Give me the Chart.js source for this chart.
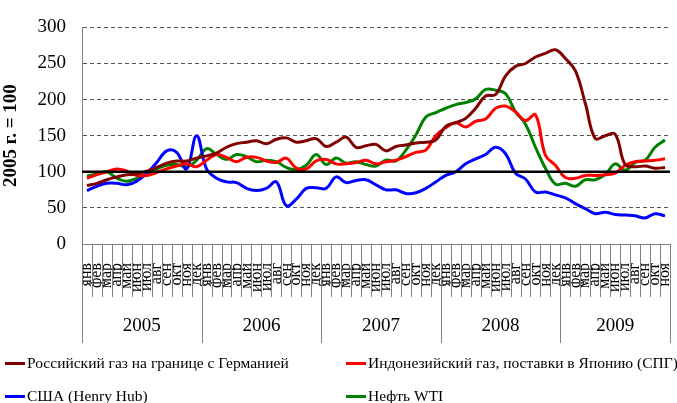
<!DOCTYPE html>
<html lang="ru">
<head>
<meta charset="UTF-8">
<title>Цены на газ и нефть, 2005 г. = 100</title>
<script src="https://cdn.jsdelivr.net/npm/chart.js"></script>
<style>
    body {
        margin: 0;
        background: #fff;
        font-family: "Liberation Serif", "Times New Roman", serif;
    }
    .wrap {
        position: relative;
        width: 677px;
        height: 403px;
    }
    .legend-item {
        position: absolute;
        display: flex;
        align-items: center;
        font-size: 15.5px;
        color: #000;
        white-space: nowrap;
        transform: translateY(-50%);
    }
    .legend-item .swatch {
        width: 20px;
        height: 3px;
        margin-right: 2px;
    }
</style>
</head>
<body>
<div class="wrap">
    <canvas id="chart"></canvas>
    <div id="legend"></div>
</div>
<script>
// данные
const monthNames = ['янв', 'фев', 'мар', 'апр', 'май', 'июн', 'июл', 'авг', 'сен', 'окт', 'ноя', 'дек'];
const years = ['2005', '2006', '2007', '2008', '2009'];
const monthsPerYear = [12, 12, 12, 12, 11];
const yTicks = [0, 50, 100, 150, 200, 250, 300];
const baseLevel = 100;

const russianGas = [
    81, 84, 89, 93, 96, 97, 101, 106, 112, 115, 115, 119,
    122, 126, 134, 139, 141, 143, 139, 145, 147, 141, 143, 146,
    135, 141, 148, 134, 136, 138, 129, 135, 137, 140, 141, 144,
    163, 168, 174, 188, 205, 207, 233, 246, 250, 259, 264, 269,
    257, 240, 195, 146, 150, 152, 110, 107, 108, 105, 106
];
const indonesiaLng = [
    91, 96, 100, 104, 101, 95, 95, 99, 104, 108, 111, 107,
    116, 124, 120, 114, 120, 120, 115, 113, 119, 105, 104, 115,
    117, 111, 111, 113, 116, 111, 114, 116, 121, 127, 130, 150,
    161, 168, 162, 170, 173, 188, 191, 183, 171, 179, 123, 109,
    92, 91, 95, 95, 96, 98, 109, 114, 115, 116, 118
];
const henryHub = [
    74, 80, 84, 84, 82, 87, 98, 113, 129, 127, 104, 150,
    104, 91, 86, 85, 77, 74, 77, 86, 53, 62, 77, 78,
    77, 93, 85, 88, 89, 82, 75, 75, 70, 71, 77, 86,
    95, 100, 111, 118, 124, 134, 125, 98, 90, 72, 72, 68,
    64, 56, 49, 42, 44, 41, 40, 39, 36, 42, 39
];
const wti = [
    94, 97, 100, 91, 87, 91, 97, 104, 109, 110, 107, 116,
    132, 124, 117, 124, 121, 114, 116, 114, 106, 103, 109, 124,
    110, 119, 112, 114, 110, 108, 116, 115, 130, 151, 176, 182,
    188, 193, 196, 201, 214, 213, 208, 183, 166, 134, 105, 83,
    84, 80, 89, 89, 96, 111, 102, 113, 116, 134, 144
];

const labels = [];
years.forEach((y, i) => {
    for (let m = 0; m < monthsPerYear[i]; m++) labels.push(monthNames[m]);
});

const series = [
    { label: 'Российский газ на границе с Германией', data: russianGas, color: '#800000' },
    { label: 'Индонезийский газ, поставки в Японию (СПГ)', data: indonesiaLng, color: '#ff0000' },
    { label: 'США (Henry Hub)', data: henryHub, color: '#0000ff' },
    { label: 'Нефть WTI', data: wti, color: '#008000' }
];

const serif = '"Liberation Serif", "Times New Roman", serif';

// линия 100, годы и разделители месяцев
const axisExtras = {
    id: 'axisExtras',
    afterDatasetsDraw(chart) {
        const { ctx, chartArea, scales: { y } } = chart;
        const py = y.getPixelForValue(baseLevel);
        ctx.save();
        ctx.strokeStyle = '#000';
        ctx.lineWidth = 2.5;
        ctx.beginPath();
        ctx.moveTo(chartArea.left, py);
        ctx.lineTo(chartArea.right, py);
        ctx.stroke();
        ctx.restore();
    },
    afterDraw(chart) {
        const { ctx, chartArea, scales: { x } } = chart;
        const w = x.width / labels.length;
        const bottom = chartArea.bottom;
        ctx.save();
        ctx.strokeStyle = '#808080';
        ctx.lineWidth = 1;
        let start = 0;
        const yearStarts = [0];
        monthsPerYear.forEach(n => { start += n; yearStarts.push(start); });
        for (let i = 0; i <= labels.length; i++) {
            const px = Math.round(x.left + i * w) + 0.5;
            const len = yearStarts.includes(i) ? 99 : 53;
            ctx.beginPath();
            ctx.moveTo(px, bottom);
            ctx.lineTo(px, bottom + len);
            ctx.stroke();
        }
        ctx.fillStyle = '#000';
        ctx.font = '19px ' + serif;
        ctx.textAlign = 'center';
        ctx.textBaseline = 'middle';
        years.forEach((yr, i) => {
            const cx = x.left + (yearStarts[i] + yearStarts[i + 1]) / 2 * w;
            ctx.fillText(yr, cx, bottom + 82);
        });
        ctx.restore();
    }
};

const ctx = document.getElementById('chart').getContext('2d');
const chart = new Chart(ctx, {
    type: 'line',
    data: {
        labels: labels,
        datasets: series.map(s => ({
            label: s.label,
            data: s.data,
            borderColor: s.color,
            backgroundColor: s.color,
            borderWidth: 3,
            pointRadius: 0,
            tension: 0.4,
            fill: false
        }))
    },
    options: {
        responsive: true,
        maintainAspectRatio: false,
        animation: false,
        layout: { padding: { top: 19, right: 7, bottom: 0, left: 0 } },
        plugins: {
            legend: { display: false },
            tooltip: { enabled: false }
        },
        scales: {
            x: {
                offset: true,
                afterFit(scale) {
                    scale.height = 159;
                    scale.paddingLeft = 0;
                    scale.paddingRight = 0;
                },
                grid: { display: false, drawTicks: false },
                border: { display: true, color: '#808080', width: 1 },
                ticks: {
                    autoSkip: false,
                    minRotation: 90,
                    maxRotation: 90,
                    padding: 19,
                    color: '#000',
                    font: { family: serif, size: 16 }
                }
            },
            y: {
                min: 0,
                max: 300,
                afterFit(scale) { scale.width = 82; },
                afterBuildTicks(scale) { scale.ticks = yTicks.map(v => ({ value: v })); },
                grid: {
                    drawTicks: false,
                    color: c => (c.tick && (c.tick.value === 0 || c.tick.value === baseLevel)) ? 'rgba(0,0,0,0)' : '#555',
                    lineWidth: 1
                },
                border: { display: true, color: '#808080', width: 1, dash: [4, 3] },
                ticks: {
                    padding: 16,
                    color: '#000',
                    font: { family: serif, size: 19 }
                },
                title: {
                    display: true,
                    text: '2005 г. = 100',
                    color: '#000',
                    padding: { top: 0, bottom: 0 },
                    font: { family: serif, size: 19, weight: 'bold' }
                }
            }
        }
    },
    plugins: [axisExtras]
});

// легенда в две колонки
const legend = document.getElementById('legend');
const cols = [5, 346];
const rows = [363, 396];
series.forEach((s, i) => {
    const item = document.createElement('div');
    item.className = 'legend-item';
    item.style.left = cols[i % 2] + 'px';
    item.style.top = rows[Math.floor(i / 2)] + 'px';
    const sw = document.createElement('span');
    sw.className = 'swatch';
    sw.style.background = s.color;
    const txt = document.createElement('span');
    txt.textContent = s.label;
    item.appendChild(sw);
    item.appendChild(txt);
    legend.appendChild(item);
});
</script>
</body>
</html>
